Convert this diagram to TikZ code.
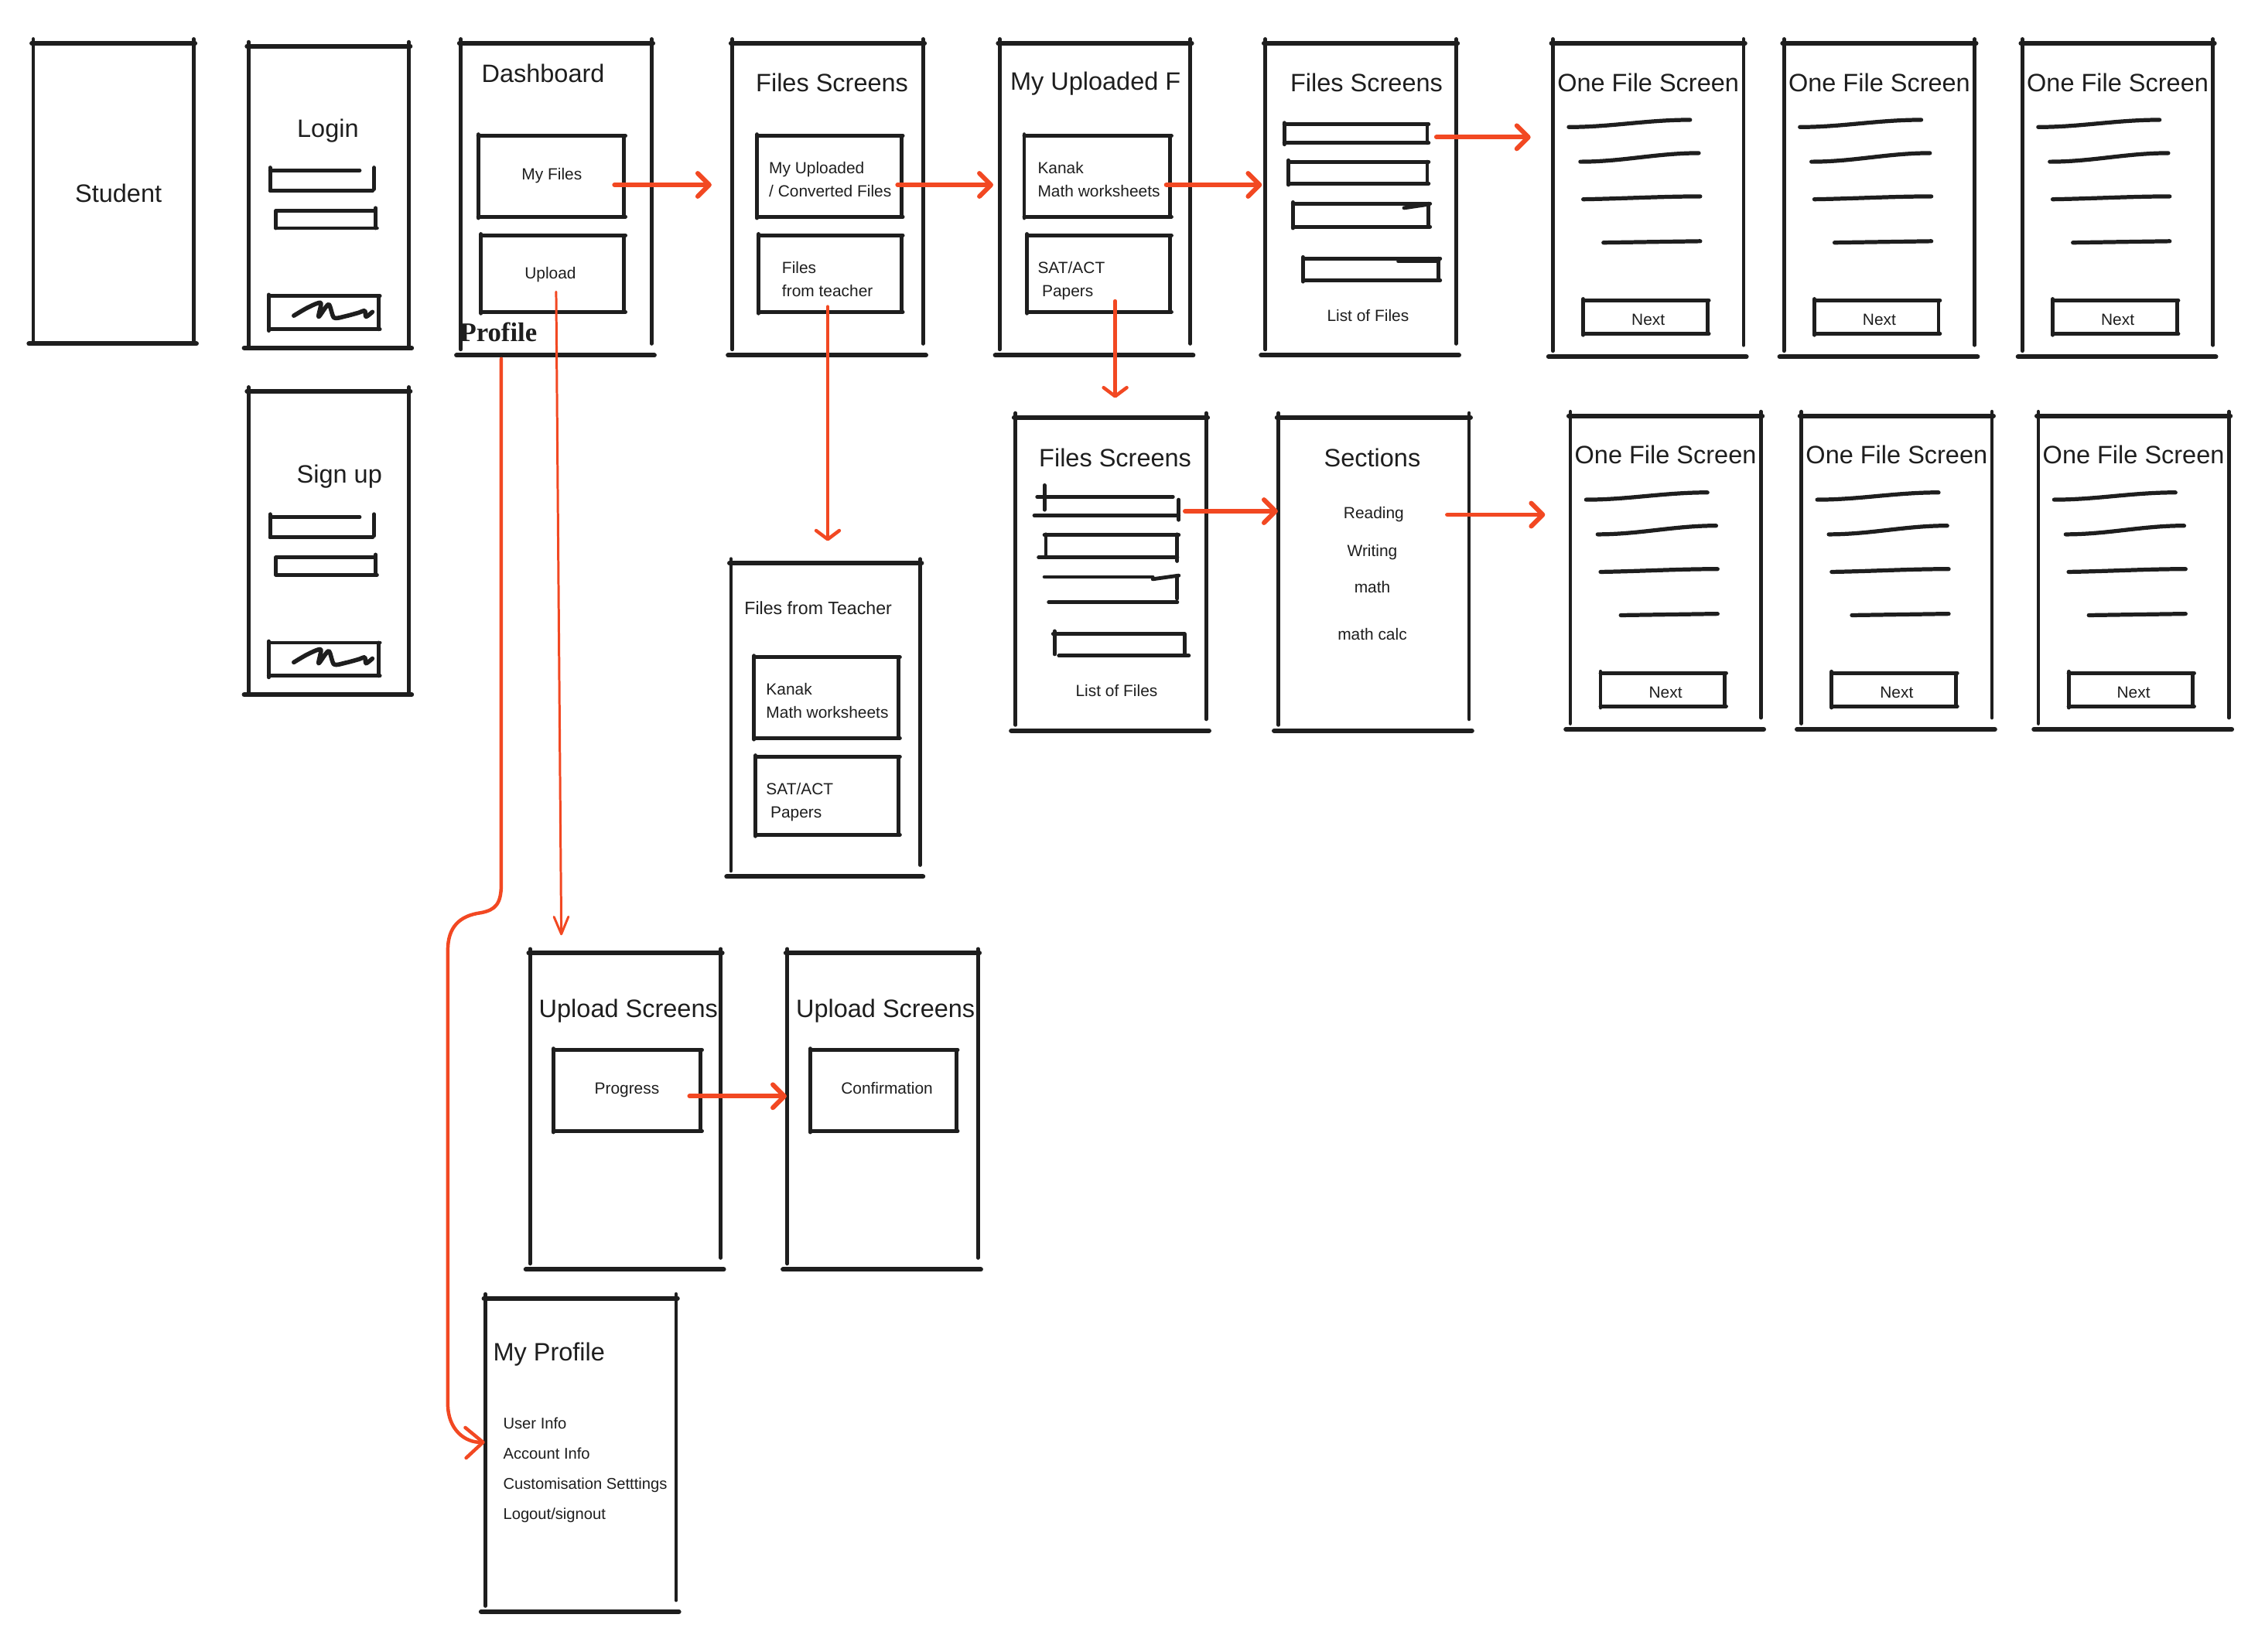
\documentclass[tikz,border=0pt]{standalone}
\usepackage{fontspec}
\setmainfont{Liberation Sans}
\newfontfamily\proffont{Liberation Serif}
\usetikzlibrary{fit,calc,arrows.meta}
\definecolor{ink}{HTML}{1E1E1E}
\definecolor{redarr}{HTML}{F24822}
\tikzset{
 bar/.style={draw=ink,line width=1.6pt,line cap=round},
 side/.style={draw=ink,line width=1.25pt,line cap=round},
 bx/.style={draw=ink,line width=1.3pt,line cap=round},
 pen/.style={draw=ink,line width=1.4pt,line cap=round},
 scrib/.style={draw=ink,line width=1.5pt,line cap=round,line join=round},
 title/.style={font=\fontsize{8.7pt}{10pt}\selectfont,text=ink,inner sep=0pt,anchor=mid},
 small/.style={font=\fontsize{5.6pt}{7pt}\selectfont,text=ink,inner sep=0pt,anchor=mid},
 region/.style={inner sep=0pt},
 arr/.style={draw=redarr,line width=1.6pt,line cap=round,-{Straight Barb[length=4pt,width=8pt,round]}},
 darr/.style={draw=redarr,line width=1.2pt,line cap=round,-{Straight Barb[length=3pt,width=8pt,round]}},
 tarr/.style={draw=redarr,line width=0.8pt,line cap=round,-{Straight Barb[length=6pt,width=5pt,round]}},
 parr/.style={draw=redarr,line width=1.2pt,line cap=round,line join=round,-{Straight Barb[length=6pt,width=10.5pt,round]}},
}
% screen frame: name, x0, y0, x1, y1, gap
\newcommand\screenframe[6]{%
  \node[region,fit={(#2,#3) (#4,#5)}] (#1) {};
  \draw[bar] (#2-1,#3) -- (#4+1,#3);
  \draw[side] (#2,#3-3) -- (#2,#5-#6/2);
  \draw[side] (#4,#3-3) -- (#4,#5-#6);
  \draw[bar] (#2-3,#5) -- (#4+2,#5);
}
% inner box: name, x0, y0, x1, y1
\newcommand\innerbox[5]{%
  \node[region,fit={(#2,#3) (#4,#5)}] (#1) {};
  \draw[bx] (#2,#3) -- (#4+1,#3);
  \draw[bx] (#2,#3-1) -- (#2,#5+1);
  \draw[bx] (#4,#3) -- (#4,#5);
  \draw[bx] (#2,#5) -- (#4+1,#5);
}
% one file screen: name, x0, y0
\newcommand\onefile[3]{%
  \screenframe{#1}{#2}{#3}{#2+132}{#3+217}{8}
  \node[title] (#1t) at (#2+66,#3+28) {One File Screen};
  \draw[pen] (#2+11,#3+58) .. controls (#2+40,#3+58) and (#2+65,#3+53) .. (#2+95,#3+53);
  \draw[pen] (#2+19,#3+82) .. controls (#2+48,#3+82) and (#2+72,#3+76) .. (#2+101,#3+76);
  \draw[pen] (#2+21,#3+108) .. controls (#2+50,#3+107.5) and (#2+75,#3+106) .. (#2+102,#3+106);
  \draw[pen] (#2+35,#3+138) -- (#2+102,#3+137);
  \innerbox{#1b}{#2+21}{#3+178}{#2+107}{#3+201}
  \node[small] (#1n) at (#2+66,#3+190) {Next};
}
% credential inputs + signature button: name, y shift
\newcommand\credentials[2]{%
  \begin{scope}[shift={(0,#2)}]
  \draw[bx] (187,118) -- (249,118);
  \draw[bx] (187,116) -- (187,132);
  \draw[bx] (187,132) -- (258,132);
  \draw[bx] (259,116) -- (259,131);
  \draw[bx] (191,146) -- (260,146);
  \draw[bx] (191,146) -- (191,158);
  \draw[bx] (191,158) -- (261,158);
  \draw[bx] (260,144) -- (260,158);
  \innerbox{#1btn}{186}{205}{262}{228}
  \draw[scrib] plot[smooth,tension=0.45] coordinates {(203.4,218.6) (213,213) (222,209.7) (220.6,219.3) (227.5,210.8) (231.2,220) (239,219) (248,216.6) (252.5,215.2) (253.4,219.3) (257.8,216)};
  \end{scope}
}
\begin{document}
\begin{tikzpicture}[x=0.5pt,y=-0.5pt]
\fill[white] (0,0) rectangle (1568,1143.5);
\useasboundingbox (0,0) rectangle (1568,1143.5);

% Student
\screenframe{student}{23}{30}{134}{238}{0}
\node[title] (tstudent) at (82,135) {Student};

% Login
\screenframe{login}{172}{32}{283}{241}{0}
\node[title] (tlogin) at (227,90) {Login};
\credentials{login}{0}

% Sign up
\screenframe{signup}{172}{271}{283}{481}{0}
\node[title] (tsignup) at (235,329) {Sign up};
\credentials{signup}{240}

% Dashboard
\screenframe{dash}{319}{30}{451}{246}{8}
\node[title,anchor=mid west] (tdash) at (333,52) {Dashboard};
\innerbox{myfiles}{331}{94}{432}{150}
\node[small] (tmyfiles) at (382,119) {My Files};
\innerbox{upload}{333}{163}{432}{216}
\node[small] (tupload) at (381,188) {Upload};
\node[font=\proffont\bfseries\fontsize{9.3pt}{11pt}\selectfont,text=ink,inner sep=0pt,anchor=mid west] (tprofile) at (318,231) {Profile};

% Files Screens 1
\screenframe{fs1}{507}{30}{639}{246}{8}
\node[title] (tfs1) at (576,58) {Files Screens};
\innerbox{fs1a}{524}{94}{624}{150}
\node[small,anchor=mid west] (tfs1a1) at (532,115) {My Uploaded};
\node[small,anchor=mid west] (tfs1a2) at (532,131) {/ Converted Files};
\innerbox{fs1b}{525}{163}{624}{216}
\node[small,anchor=mid west] (tfs1b1) at (541,184) {Files};
\node[small,anchor=mid west] (tfs1b2) at (541,200) {from teacher};

% My Uploaded F
\screenframe{muf}{692}{30}{824}{246}{8}
\node[title,anchor=mid west] (tmuf) at (699,57) {My Uploaded F};
\innerbox{mufa}{709}{94}{810}{150}
\node[small,anchor=mid west] (tmufa1) at (718,115) {Kanak};
\node[small,anchor=mid west] (tmufa2) at (718,131) {Math worksheets};
\innerbox{mufb}{711}{163}{810}{216}
\node[small,anchor=mid west] (tmufb1) at (718,184) {SAT/ACT};
\node[small,anchor=mid west] (tmufb2) at (721,200) {Papers};

% Files Screens 2
\screenframe{fs2}{876}{30}{1008}{246}{8}
\node[title] (tfs2) at (946,58) {Files Screens};
\innerbox{fs2i1}{889}{86}{988}{99}
\innerbox{fs2i2}{892}{112}{988}{127}
\innerbox{fs2i3}{895}{141}{989}{157}
\draw[bx] (972,144) -- (989,141.5);
\innerbox{fs2i4}{902}{179}{996}{194}
\draw[bx] (968,181) -- (996,181);
\node[small] (tfs2l) at (947,217) {List of Files};

% One file screens, top row
\onefile{ofa}{1075}{30}
\onefile{ofb}{1235}{30}
\onefile{ofc}{1400}{30}

% Files Screens 3
\screenframe{fs3}{703}{289}{835}{506}{8}
\node[title] (tfs3) at (772,318) {Files Screens};
\node[region,fit={(716,344) (816,358)}] (fs3i1) {};
\draw[bx] (718,344) -- (812,344);
\draw[bx] (716,357) -- (816,357);
\draw[bx] (723,336) -- (723,353);
\draw[bx] (816,346) -- (816,360);
\draw[bx] (723,370.5) -- (816,370.5);
\draw[bx] (724,370) -- (724,386);
\draw[bx] (719,386) -- (815,386);
\draw[bx] (815,370) -- (815,388.5);
\draw[bx] (723,399.5) -- (798,399.5);
\draw[bx] (798,401) -- (816,398.5);
\draw[bx] (815,399) -- (815,414.5);
\draw[bx] (726,417) -- (815,417);
\draw[bx] (729,439) -- (820,439);
\draw[bx] (730,437) -- (730,453);
\draw[bx] (820,439) -- (820,453);
\draw[bx] (733,454) -- (823,454);
\node[small] (tfs3l) at (773,477) {List of Files};

% Sections
\screenframe{sections}{885}{289}{1017}{506}{8}
\node[title] (tsections) at (950,318) {Sections};
\node[small] (reading) at (951,354) {Reading};
\node[small] (writing) at (950,380) {Writing};
\node[small] (math) at (950,405) {math};
\node[small] (mathcalc) at (950,438) {math calc};

% One file screens, second row
\onefile{ofd}{1087}{288}
\onefile{ofe}{1247}{288}
\onefile{off}{1411}{288}

% Files from Teacher
\screenframe{fft}{506}{390}{637}{607}{8}
\node[font=\fontsize{6.2pt}{8pt}\selectfont,text=ink,inner sep=0pt,anchor=mid west] (tfft) at (515,420) {Files from Teacher};
\innerbox{ffta}{522}{455}{622}{511}
\node[small,anchor=mid west] (tffta1) at (530,476) {Kanak};
\node[small,anchor=mid west] (tffta2) at (530,492) {Math worksheets};
\innerbox{fftb}{523}{524}{622}{578}
\node[small,anchor=mid west] (tfftb1) at (530,545) {SAT/ACT};
\node[small,anchor=mid west] (tfftb2) at (533,561) {Papers};

% Upload screens
\screenframe{us1}{367}{660}{499}{879}{8}
\node[title] (tus1) at (435,699) {Upload Screens};
\innerbox{progress}{383}{727}{485}{783}
\node[small] (tprogress) at (434,752) {Progress};
\screenframe{us2}{545}{660}{677}{879}{8}
\node[title] (tus2) at (613,699) {Upload Screens};
\innerbox{confirm}{561}{727}{662}{783}
\node[small] (tconfirm) at (614,752) {Confirmation};

% My Profile
\screenframe{myprof}{336}{899}{468}{1116}{8}
\node[title,anchor=mid west] (tmyprof) at (341,937) {My Profile};
\node[font=\fontsize{5.4pt}{7pt}\selectfont,text=ink,inner sep=0pt,anchor=mid west] (pi1) at (348,984) {User Info};
\node[font=\fontsize{5.4pt}{7pt}\selectfont,text=ink,inner sep=0pt,anchor=mid west] (pi2) at (348,1005) {Account Info};
\node[font=\fontsize{5.4pt}{7pt}\selectfont,text=ink,inner sep=0pt,anchor=mid west] (pi3) at (348,1026) {Customisation Setttings};
\node[font=\fontsize{5.4pt}{7pt}\selectfont,text=ink,inner sep=0pt,anchor=mid west] (pi4) at (348,1047) {Logout/signout};

% ---------- connectors ----------
\coordinate (a1s) at ($(myfiles.east)+(-7,6)$);
\draw[arr,shorten >=7pt] (a1s) -- (a1s -| fs1.west);
\coordinate (a2s) at ($(fs1a.east)+(-3,6)$);
\draw[arr,shorten >=2pt] (a2s) -- (a2s -| muf.west);
\coordinate (a3s) at ($(mufa.east)+(-3,6)$);
\draw[arr,shorten >=1pt] (a3s) -- (a3s -| fs2.west);
\coordinate (a4s) at ($(fs2i1.east)+(6,2.5)$);
\draw[arr,shorten >=7.5pt] (a4s) -- (a4s -| ofa.west);
\coordinate (a5s) at ($(fs1b.south)+(-1.5,-4)$);
\draw[darr,shorten >=7.5pt] (a5s) -- (a5s |- fft.north);
\coordinate (a6s) at ($(mufb.south)+(11.5,-8)$);
\draw[darr,shorten >=6.5pt] (a6s) -- (a6s |- fs3.north);
\coordinate (a7s) at ($(fs3i1.east)+(4,3)$);
\draw[arr] (a7s) -- (a7s -| sections.west);
\coordinate (a8s) at ($(reading)+(51,0)$);
\draw[arr,shorten >=8.5pt] (a8s) -- (a8s -| ofd.west);
\coordinate (a9s) at ($(upload.center)+(2.5,12.5)$);
\coordinate (a9e) at ($(us1.north west)+(22,-12)$);
\draw[tarr] (a9s) -- (a9e);
\coordinate (a10s) at ($(dash.south)+(-38,2)$);
\coordinate (a10e) at ($(myprof.north west)+(0,100)$);
\draw[parr] (a10s) -- (347,612) .. controls (347,626) and (343,630) .. (333,632)
  .. controls (318,634) and (310,642) .. (310,658) -- (310,972)
  .. controls (310,990) and (322,999) .. (a10e);
\coordinate (a11s) at ($(progress.east)+(-8,4)$);
\draw[arr] (a11s) -- (a11s -| us2.west);
\end{tikzpicture}
\end{document}
